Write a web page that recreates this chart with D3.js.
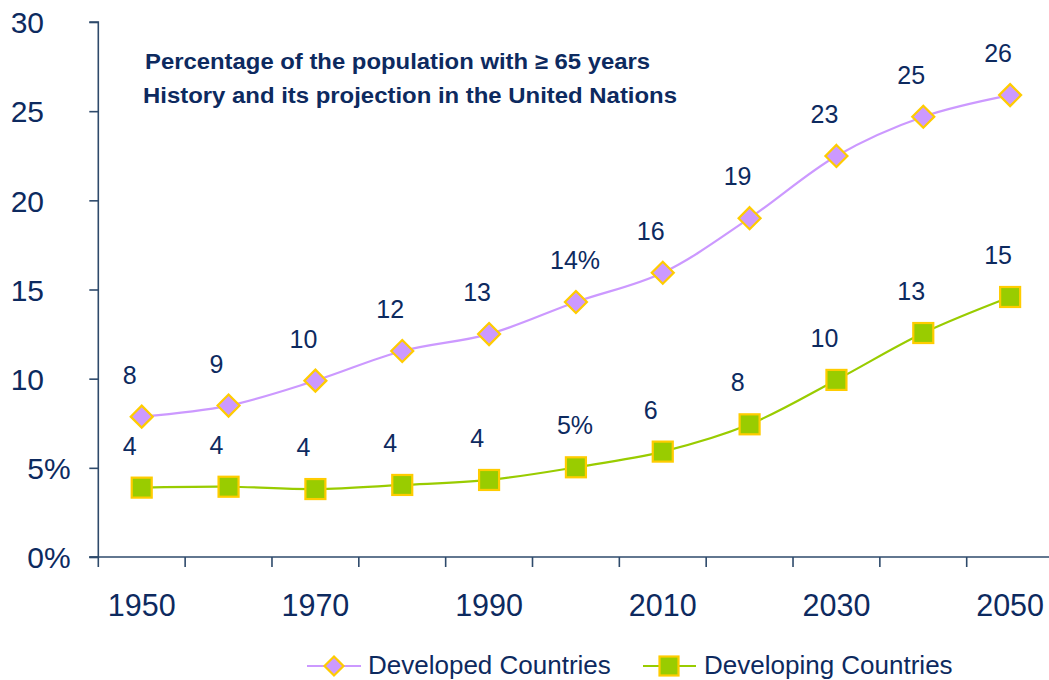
<!DOCTYPE html>
<html>
<head>
<meta charset="utf-8">
<script src="https://cdn.jsdelivr.net/npm/d3@7"></script>
<style>
  html, body { margin: 0; padding: 0; background: #fff; }
  svg { display: block; font-family: "Liberation Sans", Arial, sans-serif; }
</style>
</head>
<body>
<svg id="chart" width="1049" height="680"></svg>
<script>
const years = [1950, 1960, 1970, 1980, 1990, 2000, 2010, 2020, 2030, 2040, 2050];
const xTickLabels = [1950, 1970, 1990, 2010, 2030, 2050];
const developed = [7.87, 8.49, 9.89, 11.55, 12.5, 14.3, 15.94, 19.0, 22.49, 24.69, 25.9];
const developing = [3.89, 3.94, 3.81, 4.04, 4.32, 5.03, 5.91, 7.44, 9.93, 12.56, 14.58];
const developedLabels = ["8", "9", "10", "12", "13", "14%", "16", "19", "23", "25", "26"];
const developingLabels = ["4", "4", "4", "4", "4", "5%", "6", "8", "10", "13", "15"];
const yTicks = [0, 5, 10, 15, 20, 25, 30];
const yTickLabels = ["0%", "5%", "10", "15", "20", "25", "30"];
const titleLines = ["Percentage of the population with \u2265 65 years", "History and its projection in the United Nations"];
const seriesNames = ["Developed Countries", "Developing Countries"];

const navy = "#0d2a5f";
const axisColor = "#2e4a6b";
const purple = "#cc99ff";
const green = "#99cc00";
const gold = "#ffcc00";

const svg = d3.select("#chart");
const plotLeft = 98.3, plotTop = 22, plotBottom = 557;
const band = 86.84;

const x = d3.scaleBand().domain(years).range([plotLeft, plotLeft + band * years.length]).paddingInner(0).paddingOuter(0);
const y = d3.scaleLinear().domain([0, 30]).range([plotBottom, plotTop]);
const cx = d => x(d) + x.bandwidth() / 2;

// Y axis
const yAxis = d3.axisLeft(y).tickValues(yTicks).tickSize(9).tickFormat((d, i) => yTickLabels[i]);
const gy = svg.append("g").attr("transform", `translate(${plotLeft},0)`).call(yAxis);
gy.select(".domain").attr("stroke", axisColor).attr("stroke-width", 1.6).attr("d", `M-9,${plotTop}H0V${plotBottom}H-9`);
gy.selectAll(".tick line").attr("stroke", axisColor).attr("stroke-width", 1.6);
// number part right-aligned at x=44, "%" suffix extends to the right
gy.selectAll(".tick text").attr("fill", navy).style("font-size", "30px").attr("dy", "0.36em")
  .each(function(d, i) {
    const t = d3.select(this);
    const full = yTickLabels[i];
    t.text(full.replace("%", ""));
    const w = this.getComputedTextLength();
    t.attr("text-anchor", "start").attr("x", 44 - plotLeft - w).text(full);
  });

// X axis with ticks at band boundaries
const gx = svg.append("g").attr("transform", `translate(0,${plotBottom})`);
gx.append("line").attr("x1", plotLeft - 9).attr("x2", plotLeft + band * years.length).attr("y1", 0).attr("y2", 0)
  .attr("stroke", axisColor).attr("stroke-width", 1.6);
const boundaries = years.map(d => x(d)).concat([plotLeft + band * years.length]);
gx.selectAll("line.tk").data(boundaries).enter().append("line").attr("class", "tk")
  .attr("x1", d => d).attr("x2", d => d).attr("y1", 0).attr("y2", 10)
  .attr("stroke", axisColor).attr("stroke-width", 1.6);
gx.selectAll("text").data(xTickLabels).enter().append("text")
  .attr("x", d => cx(d)).attr("y", 59).attr("text-anchor", "middle")
  .attr("fill", navy).style("font-size", "30.5px").text(d => d);

// Lines
const line = d3.line().x((d, i) => cx(years[i])).y(d => y(d)).curve(d3.curveCatmullRom.alpha(0.5));
svg.append("path").datum(developed).attr("d", line).attr("fill", "none").attr("stroke", purple).attr("stroke-width", 2.2);
svg.append("path").datum(developing).attr("d", line).attr("fill", "none").attr("stroke", green).attr("stroke-width", 2.2);

// Markers
const diamond = (g, px, py, r) => g.append("path")
  .attr("d", `M${px},${py - r}L${px + r},${py}L${px},${py + r}L${px - r},${py}Z`)
  .attr("fill", purple).attr("stroke", gold).attr("stroke-width", 2.2);
const square = (g, px, py, h) => g.append("rect")
  .attr("x", px - h).attr("y", py - h).attr("width", 2 * h).attr("height", 2 * h)
  .attr("fill", green).attr("stroke", gold).attr("stroke-width", 2.2);

const gm = svg.append("g");
developed.forEach((v, i) => diamond(gm, cx(years[i]), y(v), 11));
developing.forEach((v, i) => square(gm, cx(years[i]), y(v), 10));

// Data labels: number centered 12px left of the point, % suffix extends right
function addLabel(txt, px, py) {
  const num = txt.replace("%", "");
  const t = svg.append("text").attr("y", py - 33).attr("fill", navy).style("font-size", "25px").text(num);
  const w = t.node().getComputedTextLength();
  t.attr("x", px - 12 - w / 2).attr("text-anchor", "start").text(txt);
}
developed.forEach((v, i) => addLabel(developedLabels[i], cx(years[i]), y(v)));
developing.forEach((v, i) => addLabel(developingLabels[i], cx(years[i]), y(v)));

// Title
svg.append("text").attr("x", 145).attr("y", 68.5).attr("textLength", 505).attr("lengthAdjust", "spacingAndGlyphs")
  .attr("fill", navy).style("font-size", "22px").style("font-weight", "bold").text(titleLines[0]);
svg.append("text").attr("x", 143).attr("y", 103).attr("textLength", 534).attr("lengthAdjust", "spacingAndGlyphs")
  .attr("fill", navy).style("font-size", "22px").style("font-weight", "bold").text(titleLines[1]);

// Legend
const ly = 666;
const lg = svg.append("g");
lg.append("line").attr("x1", 307).attr("x2", 361).attr("y1", ly).attr("y2", ly).attr("stroke", purple).attr("stroke-width", 2.2);
diamond(lg, 334, ly, 9.5);
lg.append("text").attr("x", 368).attr("y", 673.5).attr("fill", navy).style("font-size", "26px").text(seriesNames[0]);
lg.append("line").attr("x1", 643).attr("x2", 696).attr("y1", ly).attr("y2", ly).attr("stroke", green).attr("stroke-width", 2.2);
square(lg, 669, ly, 9.5);
lg.append("text").attr("x", 704).attr("y", 673.5).attr("fill", navy).style("font-size", "26px").text(seriesNames[1]);
</script>
</body>
</html>
